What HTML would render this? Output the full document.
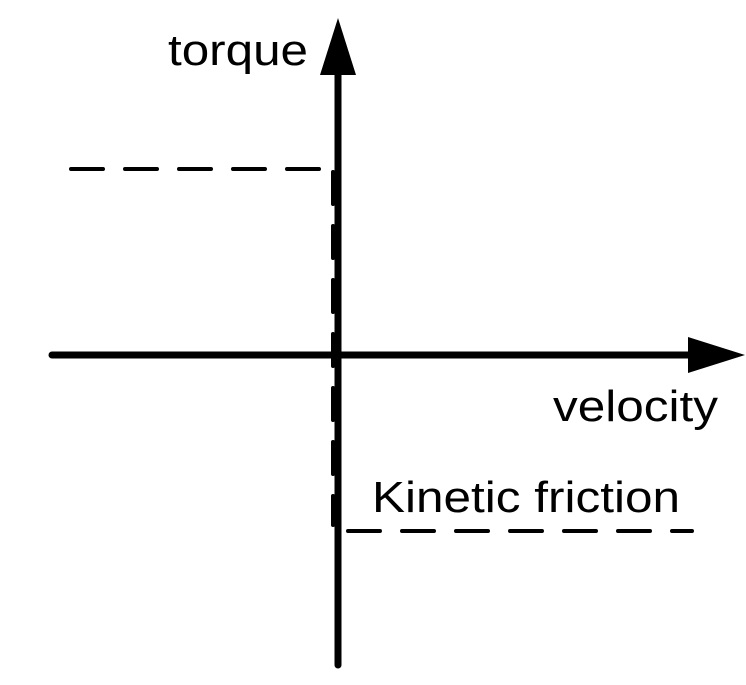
<!DOCTYPE html>
<html><head><style>html,body{margin:0;padding:0;background:#fff}svg{display:block}</style></head>
<body>
<svg width="746" height="685" xmlns="http://www.w3.org/2000/svg">
<g stroke="#000" fill="none" stroke-linecap="round">
<line x1="338" y1="70" x2="338" y2="665" stroke-width="7"/>
<line x1="52" y1="355" x2="692" y2="355" stroke-width="7"/>
<g stroke-width="4" stroke-dasharray="32 22">
<line x1="71" y1="169" x2="330" y2="169"/>
<line x1="333" y1="172" x2="333" y2="525"/>
<line x1="348" y1="531" x2="692" y2="531"/>
</g>
</g>
<polygon points="338,18 320,75 356,75" fill="#000"/>
<polygon points="745,355 688,337 688,373" fill="#000"/>
<g font-family="Liberation Sans, sans-serif" font-size="44" fill="#000">
<text x="168" y="65" textLength="140" lengthAdjust="spacingAndGlyphs">torque</text>
<text x="553" y="421" textLength="165" lengthAdjust="spacingAndGlyphs">velocity</text>
<text x="372" y="512" textLength="308" lengthAdjust="spacingAndGlyphs">Kinetic friction</text>
</g>
</svg>
</body></html>
